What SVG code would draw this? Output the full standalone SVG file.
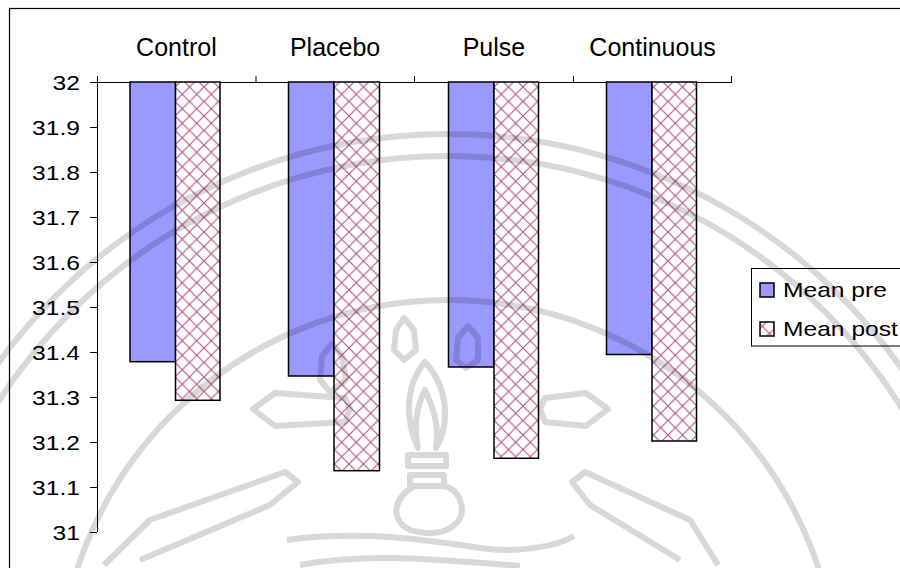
<svg xmlns="http://www.w3.org/2000/svg" width="900" height="568" viewBox="0 0 900 568">
<style>
text{font-family:"Liberation Sans",Arial,sans-serif;font-size:21px;fill:#000}
text.cat{font-size:25px}
.pre{fill:#9999ff;stroke:#000;stroke-width:1.5}
.post{fill:url(#hatch);stroke:#000;stroke-width:1.5}
.ax{stroke:#000;stroke-width:1;fill:none}
</style>
<defs>
<pattern id="hatch" patternUnits="userSpaceOnUse" width="14.5" height="14.5" x="1" y="0">
<rect width="14.5" height="14.5" fill="#fff"/>
<path d="M0,0 L14.5,14.5 M14.5,0 L0,14.5 M-1,13.5 L1,15.5 M13.5,-1 L15.5,1" stroke="#b3507f" stroke-width="1.1" fill="none"/>
</pattern>
</defs>
<rect width="900" height="568" fill="#fff"/>
<rect x="9.5" y="8.5" width="1000" height="1000" fill="none" stroke="#000" stroke-width="1.2"/>

<g id="axes" class="ax">
<path d="M97.5,82 V532"/>
<path d="M90,82.5 H732"/>
<path d="M90,127.5 H97 M90,172.5 H97 M90,217.5 H97 M90,262.5 H97 M90,307.5 H97 M90,352.5 H97 M90,397.5 H97 M90,442.5 H97 M90,487.5 H97 M90,532.5 H97"/>
<path d="M97.5,76 V82 M256,76 V82 M414.5,76 V82 M573.5,76 V82 M731.5,76 V82"/>
</g>

<g id="y-labels" text-anchor="end">
<text x="80" y="90" textLength="27.4" lengthAdjust="spacingAndGlyphs">32</text>
<text x="80" y="135" textLength="47.9" lengthAdjust="spacingAndGlyphs">31.9</text>
<text x="80" y="180" textLength="47.9" lengthAdjust="spacingAndGlyphs">31.8</text>
<text x="80" y="225" textLength="47.9" lengthAdjust="spacingAndGlyphs">31.7</text>
<text x="80" y="270" textLength="47.9" lengthAdjust="spacingAndGlyphs">31.6</text>
<text x="80" y="315" textLength="47.9" lengthAdjust="spacingAndGlyphs">31.5</text>
<text x="80" y="360" textLength="47.9" lengthAdjust="spacingAndGlyphs">31.4</text>
<text x="80" y="405" textLength="47.9" lengthAdjust="spacingAndGlyphs">31.3</text>
<text x="80" y="450" textLength="47.9" lengthAdjust="spacingAndGlyphs">31.2</text>
<text x="80" y="495" textLength="47.9" lengthAdjust="spacingAndGlyphs">31.1</text>
<text x="80" y="540" textLength="27.4" lengthAdjust="spacingAndGlyphs">31</text>
</g>

<g id="cat-control">
<text class="cat" x="176.4" y="55.5" text-anchor="middle">Control</text>
<rect class="pre" x="130" y="82" width="45.5" height="279.7"/>
<rect class="post" x="175.5" y="82" width="44.5" height="318.3"/>
</g>
<g id="cat-placebo">
<text class="cat" x="335.1" y="55.5" text-anchor="middle">Placebo</text>
<rect class="pre" x="288.5" y="82" width="45.5" height="294"/>
<rect class="post" x="334" y="82" width="45.5" height="388.7"/>
</g>
<g id="cat-pulse">
<text class="cat" x="493.9" y="55.5" text-anchor="middle">Pulse</text>
<rect class="pre" x="448.5" y="82" width="45.5" height="285"/>
<rect class="post" x="494" y="82" width="44.5" height="376.3"/>
</g>
<g id="cat-continuous">
<text class="cat" x="652.6" y="55.5" text-anchor="middle">Continuous</text>
<rect class="pre" x="606.5" y="82" width="45.5" height="272.5"/>
<rect class="post" x="652" y="82" width="44.5" height="359"/>
</g>

<g id="legend">
<rect x="751.5" y="268.5" width="200" height="77.5" fill="#fff" stroke="#000" stroke-width="1"/>
<rect class="pre" x="760" y="283" width="14" height="14"/>
<text x="783" y="297" textLength="103.9" lengthAdjust="spacingAndGlyphs">Mean pre</text>
<rect class="post" x="760" y="322" width="14" height="14"/>
<text x="783" y="336" textLength="114.9" lengthAdjust="spacingAndGlyphs">Mean post</text>
</g>

<g id="watermark" opacity="0.15" fill="none" stroke="#000" stroke-width="6" stroke-linejoin="round">
<circle cx="448" cy="690" r="556"/>
<circle cx="448" cy="690" r="534"/>
<circle cx="448" cy="690" r="390"/>
<path d="M253,409 L275,393 L345,398 L350,409 L345,422 L275,426 Z"/>
<path d="M608,409 L586,393 L545,398 L540,409 L545,422 L586,426 Z"/>
<path d="M332,344 L342,356 L346,380 L330,392 L320,380 L322,356 Z"/>
<path d="M404,318 L414,330 L416,350 L404,360 L394,350 L396,330 Z"/>
<path d="M468,326 L478,338 L478,360 L466,368 L456,360 L458,338 Z"/>
<path d="M104,565 L150,520 L285,472 L298,482 L270,505 L140,560"/>
<path d="M718,565 L690,520 L585,472 L572,482 L590,505 L680,560"/>
<path d="M425,362 C405,385 405,420 418,448 C412,420 420,400 425,390 C432,405 440,425 436,448 C452,420 446,385 425,362 Z"/>
<path d="M408,455 H446 V466 H408 Z M410,475 H444 V486 H410 Z"/>
<path d="M415,486 C395,495 388,520 410,530 C440,540 470,525 460,500 C456,490 448,486 440,486"/>
<path d="M287,540 C360,530 430,540 480,548 C520,554 560,545 574,536"/>
<path d="M300,565 C370,552 440,560 520,566"/>
</g>
</svg>
